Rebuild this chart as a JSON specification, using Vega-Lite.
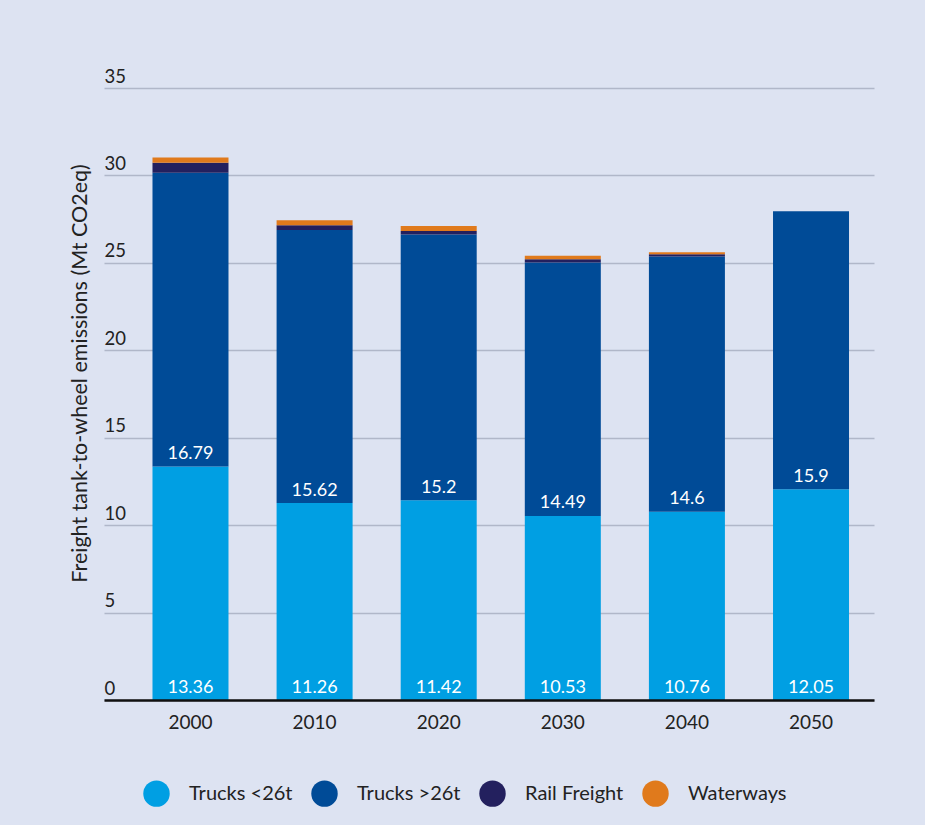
{
  "$schema": "https://vega.github.io/schema/vega-lite/v6.json",
  "width": 770,
  "height": 612,
  "autosize": {"type": "none"},
  "padding": {"left": 104, "top": 88, "right": 51, "bottom": 125},
  "background": "#dde3f2",
  "config": {"font": "Lato", "view": {"stroke": null}},
  "data": {
    "values": [
      {"year": "2000", "series": "Trucks <26t", "k": 1, "value": 13.36},
      {"year": "2000", "series": "Trucks >26t", "k": 2, "value": 16.79},
      {"year": "2000", "series": "Rail Freight", "k": 3, "value": 0.57},
      {"year": "2000", "series": "Waterways", "k": 4, "value": 0.3},
      {"year": "2010", "series": "Trucks <26t", "k": 1, "value": 11.26},
      {"year": "2010", "series": "Trucks >26t", "k": 2, "value": 15.62},
      {"year": "2010", "series": "Rail Freight", "k": 3, "value": 0.27},
      {"year": "2010", "series": "Waterways", "k": 4, "value": 0.28},
      {"year": "2020", "series": "Trucks <26t", "k": 1, "value": 11.42},
      {"year": "2020", "series": "Trucks >26t", "k": 2, "value": 15.2},
      {"year": "2020", "series": "Rail Freight", "k": 3, "value": 0.2},
      {"year": "2020", "series": "Waterways", "k": 4, "value": 0.29},
      {"year": "2030", "series": "Trucks <26t", "k": 1, "value": 10.53},
      {"year": "2030", "series": "Trucks >26t", "k": 2, "value": 14.49},
      {"year": "2030", "series": "Rail Freight", "k": 3, "value": 0.18},
      {"year": "2030", "series": "Waterways", "k": 4, "value": 0.2},
      {"year": "2040", "series": "Trucks <26t", "k": 1, "value": 10.76},
      {"year": "2040", "series": "Trucks >26t", "k": 2, "value": 14.6},
      {"year": "2040", "series": "Rail Freight", "k": 3, "value": 0.13},
      {"year": "2040", "series": "Waterways", "k": 4, "value": 0.11},
      {"year": "2050", "series": "Trucks <26t", "k": 1, "value": 12.05},
      {"year": "2050", "series": "Trucks >26t", "k": 2, "value": 15.9},
      {"year": "2050", "series": "Rail Freight", "k": 3, "value": 0},
      {"year": "2050", "series": "Waterways", "k": 4, "value": 0}
    ]
  },
  "transform": [
    {"stack": "value", "groupby": ["year"], "sort": [{"field": "k", "order": "ascending"}], "as": ["v0", "v1"]}
  ],
  "layer": [
    {
      "mark": {"type": "bar"},
      "encoding": {
        "x": {
          "field": "year",
          "type": "ordinal",
          "scale": {"paddingInner": 0.3876, "paddingOuter": 0.296, "align": 0.66},
          "axis": {
            "title": null,
            "labelAngle": 0,
            "domain": true,
            "domainColor": "#111111",
            "domainWidth": 2.5,
            "ticks": false,
            "grid": false,
            "labelPadding": 13,
            "labelFontSize": 19,
            "labelColor": "#222222",
            "zindex": 1
          }
        },
        "y": {
          "field": "v0",
          "type": "quantitative",
          "scale": {"domain": [0, 35]},
          "axis": {
            "title": "Freight tank-to-wheel emissions (Mt CO2eq)",
            "values": [0, 5, 10, 15, 20, 25, 30, 35],
            "grid": true,
            "gridColor": "#b0b7c9",
            "gridWidth": 1.3,
            "domain": false,
            "ticks": false,
            "labelAlign": "left",
            "labelBaseline": "alphabetic",
            "labelPadding": 0,
            "labelOffset": -6,
            "labelFontSize": 18.5,
            "labelColor": "#222222",
            "titleFontSize": 21.5,
            "titleFontWeight": "normal",
            "titleColor": "#222222",
            "titleX": -24,
            "titleY": 285,
            "titleAlign": "center",
            "titleBaseline": "middle",
            "titleAngle": -90
          }
        },
        "y2": {"field": "v1"},
        "color": {
          "field": "series",
          "type": "nominal",
          "scale": {
            "domain": ["Trucks <26t", "Trucks >26t", "Rail Freight", "Waterways"],
            "range": ["#009fe3", "#004b97", "#23205e", "#e07a1c"]
          },
          "legend": {
            "title": null,
            "orient": "none",
            "direction": "horizontal",
            "legendX": 39,
            "legendY": 692,
            "padding": 0,
            "symbolType": "circle",
            "symbolSize": 700,
            "symbolStrokeWidth": 0,
            "symbolOpacity": 1,
            "labelFontSize": 20,
            "labelColor": "#222222",
            "labelOffset": 19,
            "columnPadding": 18
          }
        }
      }
    },
    {
      "transform": [{"filter": "datum.k <= 2"}],
      "mark": {"type": "text", "color": "#ffffff", "baseline": "alphabetic", "align": "center", "dy": -7.5, "fontSize": 18},
      "encoding": {
        "x": {"field": "year", "type": "ordinal"},
        "y": {"field": "v0", "type": "quantitative"},
        "text": {"field": "value", "type": "nominal"}
      }
    }
  ]
}
